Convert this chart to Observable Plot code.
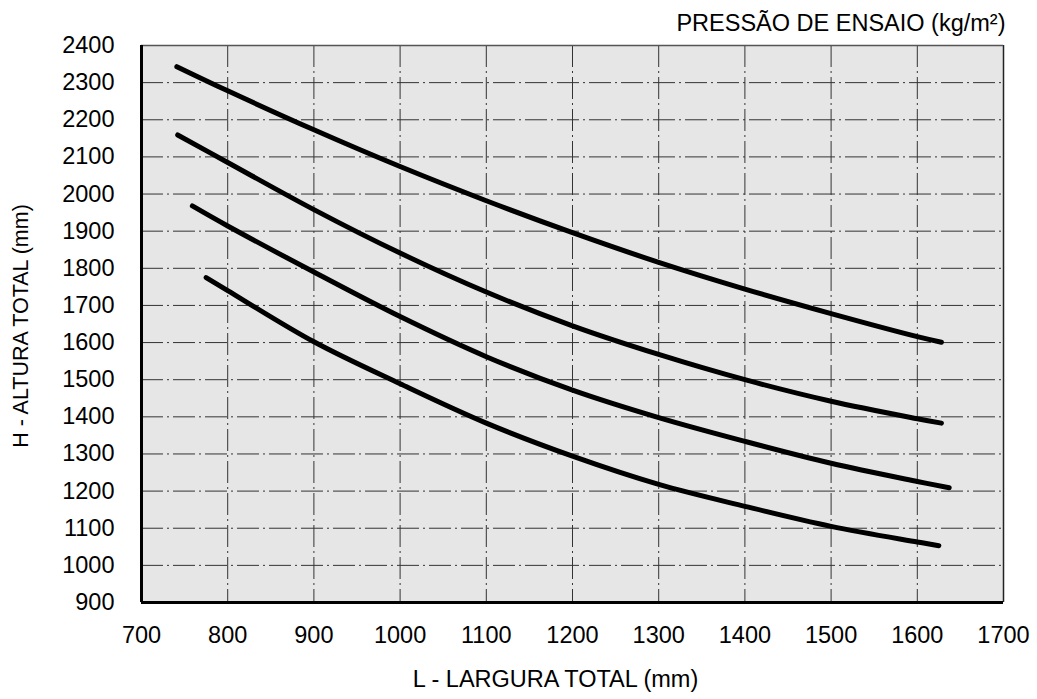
<!DOCTYPE html>
<html>
<head>
<meta charset="utf-8">
<script src="https://cdn.jsdelivr.net/npm/d3@7"></script>
<script src="https://cdn.jsdelivr.net/npm/@observablehq/plot@0.6"></script>
<style>
  html, body { margin: 0; padding: 0; background: #fff; }
  #chart { width: 1037px; height: 699px; }
</style>
</head>
<body>
<div id="chart"></div>
<script>
// ---- data ----
const xTicks = [700, 800, 900, 1000, 1100, 1200, 1300, 1400, 1500, 1600, 1700];
const yTicks = [900, 1000, 1100, 1200, 1300, 1400, 1500, 1600, 1700, 1800, 1900, 2000, 2100, 2200, 2300, 2400];

const curve1L = [741, 800, 900, 1000, 1100, 1200, 1300, 1400, 1500, 1600, 1628];
const curve1H = [2343, 2278, 2173, 2074, 1982, 1896, 1816, 1744, 1678, 1616, 1601];

const curve2L = [742, 800, 900, 1000, 1100, 1200, 1300, 1400, 1500, 1600, 1628];
const curve2H = [2159, 2085, 1958, 1841, 1736, 1645, 1568, 1500, 1442, 1395, 1383];

const curve3L = [759, 800, 900, 1000, 1100, 1200, 1300, 1400, 1500, 1600, 1637];
const curve3H = [1968, 1914, 1790, 1670, 1562, 1472, 1398, 1334, 1275, 1226, 1209];

const curve4L = [775, 800, 900, 1000, 1100, 1200, 1300, 1400, 1500, 1600, 1625];
const curve4H = [1775, 1740, 1602, 1489, 1383, 1294, 1218, 1159, 1105, 1063, 1053];

const seriesNames = ["Curva 1", "Curva 2", "Curva 3", "Curva 4"];

const titleText = "PRESSÃO DE ENSAIO (kg/m²)";
const xLabel = "L - LARGURA TOTAL (mm)";
const yLabel = "H - ALTURA TOTAL (mm)";

// ---- build table ----
const allL = [curve1L, curve2L, curve3L, curve4L];
const allH = [curve1H, curve2H, curve3H, curve4H];
const rows = [];
allL.forEach((Ls, i) => Ls.forEach((L, j) => rows.push({serie: seriesNames[i], L, H: allH[i][j]})));

const font = "'Liberation Sans', Arial, Helvetica, sans-serif";
const gridDash = "22,4,2,4";
const gridColor = "#333";
const fs = 23.5;

const chart = Plot.plot({
  width: 1037,
  height: 699,
  marginLeft: 141,
  marginRight: 34,
  marginTop: 45,
  marginBottom: 97,
  style: {fontFamily: font, fontSize: fs + "px", color: "#000", background: "#fff", overflow: "visible"},
  x: {domain: [700, 1700]},
  y: {domain: [900, 2400]},
  marks: [
    Plot.frame({fill: "#e6e6e6", stroke: null}),
    Plot.gridX(xTicks.slice(1, -1), {stroke: gridColor, strokeOpacity: 1, strokeWidth: 1, strokeDasharray: gridDash}),
    Plot.gridY(yTicks.slice(1, -1), {stroke: gridColor, strokeOpacity: 1, strokeWidth: 1, strokeDasharray: gridDash}),
    Plot.ruleX([xTicks[xTicks.length - 1]], {stroke: "#222", strokeWidth: 1.5}),
    Plot.ruleY([yTicks[yTicks.length - 1]], {stroke: "#555", strokeWidth: 1.5}),
    Plot.line(rows, {x: "L", y: "H", z: "serie", curve: "catmull-rom", stroke: "#000", strokeWidth: 5, strokeLinecap: "round", strokeLinejoin: "round"}),
    Plot.ruleX([xTicks[0]], {stroke: "#000", strokeWidth: 3}),
    Plot.ruleY([yTicks[0]], {stroke: "#000", strokeWidth: 3}),
    Plot.axisX(xTicks, {tickSize: 0, tickPadding: 24, fontSize: fs, label: null, tickFormat: d => String(d)}),
    Plot.axisY(yTicks, {tickSize: 0, tickPadding: 27, fontSize: fs, label: null, tickFormat: d => String(d)}),
    Plot.text([titleText], {text: d => d, frameAnchor: "top-right", textAnchor: "end", lineAnchor: "middle", dx: 2, dy: -22, fontSize: fs}),
    Plot.text([xLabel], {text: d => d, frameAnchor: "bottom", textAnchor: "middle", lineAnchor: "middle", dx: -17, dy: 77, fontSize: fs}),
    Plot.text([yLabel], {text: d => d, frameAnchor: "left", textAnchor: "middle", lineAnchor: "middle", rotate: -90, dx: -120, dy: 2, fontSize: 21.5})
  ]
});
document.getElementById("chart").appendChild(chart);
</script>
</body>
</html>
